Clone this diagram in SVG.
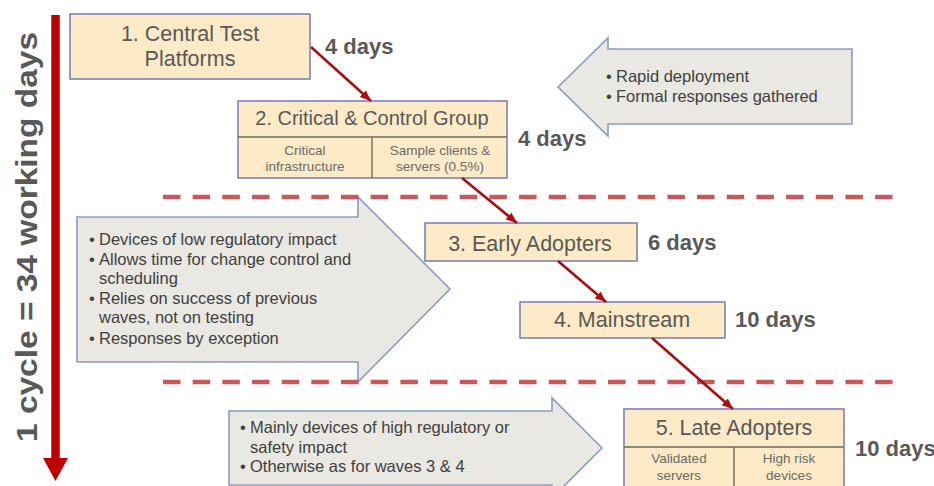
<svg xmlns="http://www.w3.org/2000/svg" width="934" height="486" viewBox="0 0 934 486">
<defs>
<style>
text{font-family:"Liberation Sans",Arial,sans-serif;}
.box{fill:#FCEBC6;stroke:#8080B8;stroke-width:1.6;}
.div{stroke:#6E6A5E;stroke-width:1.4;fill:none;}
.title{font-size:21.5px;fill:#595959;text-anchor:middle;}
.sub{font-size:13.5px;fill:#6A6A6A;text-anchor:middle;}
.days{font-size:22px;font-weight:bold;fill:#595959;}
.big{fill:#EAE8E2;stroke:#8A9CC4;stroke-width:1.6;}
.bul{font-size:16.5px;fill:#404040;}
.conn{stroke:#A80F12;stroke-width:2.6;fill:none;marker-end:url(#ah);}
.dash{stroke:#C8595B;stroke-width:4.5;stroke-dasharray:17.5 12.17;fill:none;}
</style>
<marker id="ah" markerUnits="userSpaceOnUse" markerWidth="12" markerHeight="12" viewBox="0 0 12 12" refX="11" refY="6" orient="auto">
<path d="M0,1.5 L11,6 L0,10.5 Z" fill="#A80F12"/>
</marker>
</defs>

<g id="cycle">
<line x1="55.5" y1="15" x2="55.5" y2="459" stroke="#C00000" stroke-width="8.5"/>
<polygon points="43,458 68,458 55.5,481" fill="#C00000"/>
<text transform="rotate(-90)" x="-237" y="37" font-size="30" font-weight="bold" fill="#595959" text-anchor="middle" textLength="410" lengthAdjust="spacingAndGlyphs">1 cycle = 34 working days</text>
</g>

<g id="arrow-top">
<polygon class="big" points="558,87 608,38 608,49 852,49 852,124 608,124 608,136"/>
<text class="bul" x="606" y="82">•</text><text class="bul" x="616" y="82">Rapid deployment</text>
<text class="bul" x="606" y="102">•</text><text class="bul" x="616" y="102">Formal responses gathered</text>
</g>

<g id="arrow-middle">
<polygon class="big" points="77,217 358,217 358,197 450,289 358,382 358,362 77,362"/>
<text class="bul" x="89" y="245">•</text><text class="bul" x="99" y="245">Devices of low regulatory  impact</text>
<text class="bul" x="89" y="265">•</text><text class="bul" x="99" y="265">Allows time for change control and</text>
<text class="bul" x="99" y="284">scheduling</text>
<text class="bul" x="89" y="304">•</text><text class="bul" x="99" y="304">Relies on success of previous</text>
<text class="bul" x="99" y="323">waves, not on testing</text>
<text class="bul" x="89" y="344">•</text><text class="bul" x="99" y="344">Responses by exception</text>
</g>

<g id="arrow-bottom">
<polygon class="big" points="229,411 552,411 552,398 602,448 552,498 552,485 229,485"/>
<text class="bul" x="240" y="433">•</text><text class="bul" x="250" y="433">Mainly devices of high regulatory  or</text>
<text class="bul" x="250" y="453">safety impact</text>
<text class="bul" x="240" y="472">•</text><text class="bul" x="250" y="472">Otherwise as for waves 3 &amp; 4</text>
</g>

<g id="separators">
<line class="dash" x1="163" y1="197" x2="893" y2="197"/>
<line class="dash" x1="163" y1="382" x2="893" y2="382"/>
</g>

<g id="wave1">
<rect class="box" x="70" y="14" width="240" height="65"/>
<text class="title" x="190" y="41">1. Central Test</text>
<text class="title" x="190" y="66">Platforms</text>
</g>
<text class="days" x="325" y="54">4 days</text>

<g id="wave2">
<rect class="box" x="238" y="101" width="269" height="77"/>
<line class="div" x1="238" y1="137" x2="507" y2="137"/>
<line class="div" x1="372" y1="137" x2="372" y2="178"/>
<text class="title" x="372" y="125" style="font-size:20px">2. Critical &amp; Control Group</text>
<text class="sub" x="305" y="155">Critical</text>
<text class="sub" x="305" y="171">infrastructure</text>
<text class="sub" x="440" y="155">Sample clients &amp;</text>
<text class="sub" x="440" y="171">servers  (0.5%)</text>
</g>
<text class="days" x="518" y="146">4 days</text>

<g id="wave3">
<rect class="box" x="425" y="223" width="212" height="38"/>
<text class="title" x="530" y="251">3. Early Adopters</text>
</g>
<text class="days" x="648" y="250">6 days</text>

<g id="wave4">
<rect class="box" x="520" y="302" width="205" height="36"/>
<text class="title" x="622" y="327">4. Mainstream</text>
</g>
<text class="days" x="735" y="327">10 days</text>

<g id="wave5">
<rect class="box" x="624" y="409" width="220" height="90"/>
<line class="div" x1="624" y1="447" x2="844" y2="447"/>
<line class="div" x1="734" y1="447" x2="734" y2="499"/>
<text class="title" x="734" y="435">5. Late Adopters</text>
<text class="sub" x="679" y="463">Validated</text>
<text class="sub" x="679" y="480">servers</text>
<text class="sub" x="789" y="463">High risk</text>
<text class="sub" x="789" y="480">devices</text>
</g>
<text class="days" x="855" y="456">10 days</text>

<g id="connectors">
<line class="conn" x1="311" y1="47" x2="371" y2="101"/>
<line class="conn" x1="462" y1="178" x2="517" y2="223"/>
<line class="conn" x1="558" y1="261" x2="606" y2="302"/>
<line class="conn" x1="652" y1="338" x2="733" y2="409"/>
</g>
</svg>
